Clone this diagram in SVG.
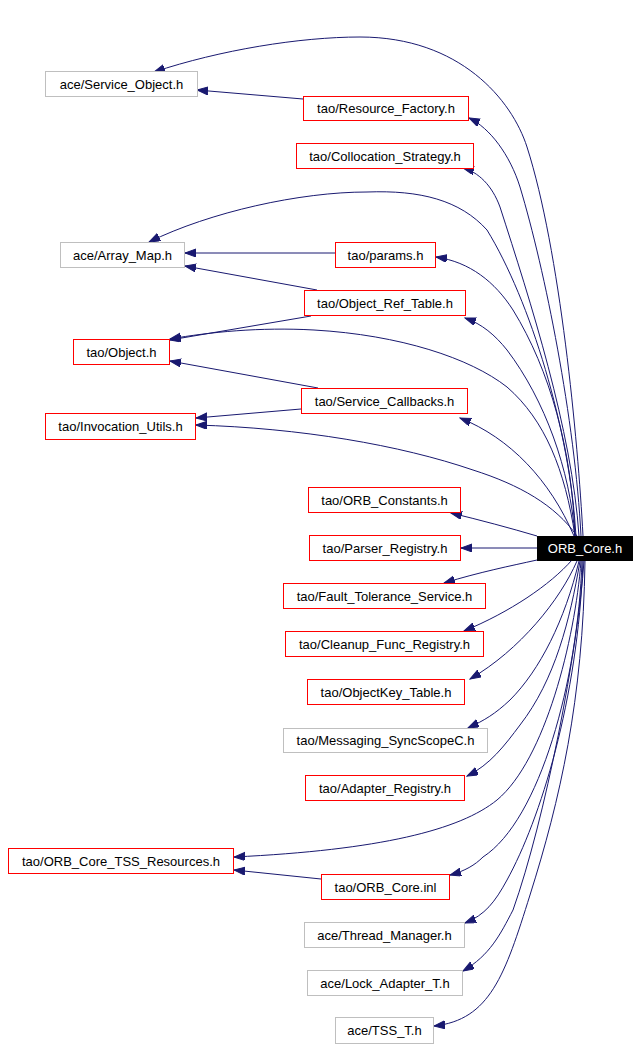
<svg xmlns="http://www.w3.org/2000/svg" width="640" height="1048" viewBox="0 0 640 1048">
<style>
.n rect{fill:#ffffff;stroke-width:1}
.r rect{stroke:#ff0000}
.g rect{stroke:#bfbfbf}
.n text{font-family:"Liberation Sans",Arial,sans-serif;font-size:13px;text-anchor:middle;fill:#000000}
#orbcore rect{fill:#000000;stroke:#000000}
#orbcore text{fill:#ffffff}
.e path{fill:none;stroke:#191970;stroke-width:1;marker-end:url(#ah)}
</style>
<defs>
<marker id="ah" markerUnits="userSpaceOnUse" markerWidth="12" markerHeight="9" refX="11" refY="4" orient="auto">
<path d="M0,0 L11,4 L0,8 z" fill="#191970" stroke="#191970" stroke-width="1"/>
</marker>
</defs>
<rect width="640" height="1048" fill="#ffffff"/>
<g id="edges" class="e">
<path d="M583,536 C578,440 560,250 527,147 C512,100 460,37 360,37 C300,37 220,50 154,72"/>
<path d="M303,99 L197,90"/>
<path d="M581,536 C575,420 545,270 520,187 C510,155 490,128 469,118"/>
<path d="M579,536 C572,430 530,300 500,207 C492,185 478,172 463,168"/>
<path d="M576,536 C570,430 530,300 487,230 C460,200 420,190 367,192 C300,192 210,212 149,242"/>
<path d="M335,253 L185,253"/>
<path d="M575,536 C572,450 550,370 513,310 C495,282 470,262 436,257"/>
<path d="M317,290 L185,266"/>
<path d="M575,536 C570,470 545,400 507,350 C495,335 482,324 465,318"/>
<path d="M311,316 L170,340"/>
<path d="M575,536 C565,470 545,420 507,387 C470,358 400,335 314,330 C260,327 210,332 170,339"/>
<path d="M318,388 L170,361"/>
<path d="M574,536 C550,480 510,438 460,418"/>
<path d="M301,409 L196,418"/>
<path d="M577,536 C555,505 520,485 473,470 C400,445 300,428 196,425"/>
<path d="M537,536 C510,528 480,520 451,513"/>
<path d="M537,548 L461,548"/>
<path d="M537,560 C510,566 480,572 444,583"/>
<path d="M572,560 C550,585 510,612 464,631"/>
<path d="M577,561 C560,600 520,650 470,679"/>
<path d="M579,561 C565,620 540,670 510,700 C495,714 485,720 468,728"/>
<path d="M580,561 C570,620 555,680 520,725 C505,745 490,765 467,776"/>
<path d="M581,561 C575,640 545,760 497,800 C460,830 380,850 234,857"/>
<path d="M321,879 L234,870"/>
<path d="M582,561 C578,680 540,820 483,857 C475,865 465,871 450,875"/>
<path d="M583,561 C578,700 540,820 507,880 C495,902 485,915 465,923"/>
<path d="M584,561 C578,650 545,820 513,910 C500,935 490,955 463,971"/>
<path d="M585,561 C583,700 560,800 530,895 C505,975 490,1020 434,1026"/>
</g>
<g id="service_object" class="n g"><rect x="45.5" y="71.5" width="152" height="25"/><text x="121.5" y="88.5">ace/Service_Object.h</text></g>
<g id="resource_factory" class="n r"><rect x="303.5" y="96.5" width="165" height="24"/><text x="386" y="113">tao/Resource_Factory.h</text></g>
<g id="collocation_strategy" class="n r"><rect x="296.5" y="143.5" width="177" height="25"/><text x="385" y="160.5">tao/Collocation_Strategy.h</text></g>
<g id="array_map" class="n g"><rect x="60.5" y="242.5" width="124" height="25"/><text x="122.5" y="259.5">ace/Array_Map.h</text></g>
<g id="params" class="n r"><rect x="335.5" y="242.5" width="100" height="25"/><text x="385.5" y="259.5">tao/params.h</text></g>
<g id="object_ref_table" class="n r"><rect x="304.5" y="290.5" width="161" height="25"/><text x="385" y="307.5">tao/Object_Ref_Table.h</text></g>
<g id="object" class="n r"><rect x="73.5" y="339.5" width="96" height="25"/><text x="121.5" y="356.5">tao/Object.h</text></g>
<g id="service_callbacks" class="n r"><rect x="301.5" y="388.5" width="166" height="25"/><text x="384.5" y="405.5">tao/Service_Callbacks.h</text></g>
<g id="invocation_utils" class="n r"><rect x="45.5" y="413.5" width="150" height="26"/><text x="120.5" y="431">tao/Invocation_Utils.h</text></g>
<g id="orb_constants" class="n r"><rect x="308.5" y="487.5" width="152" height="25"/><text x="384.5" y="504.5">tao/ORB_Constants.h</text></g>
<g id="parser_registry" class="n r"><rect x="309.5" y="535.5" width="151" height="25"/><text x="385" y="552.5">tao/Parser_Registry.h</text></g>
<g id="orbcore" class="n"><rect x="537.5" y="536.5" width="95" height="24"/><text x="585" y="553">ORB_Core.h</text></g>
<g id="fault_tolerance_service" class="n r"><rect x="283.5" y="583.5" width="202" height="25"/><text x="384.5" y="600.5">tao/Fault_Tolerance_Service.h</text></g>
<g id="cleanup_func_registry" class="n r"><rect x="285.5" y="631.5" width="198" height="25"/><text x="384.5" y="648.5">tao/Cleanup_Func_Registry.h</text></g>
<g id="objectkey_table" class="n r"><rect x="307.5" y="679.5" width="157" height="25"/><text x="386" y="696.5">tao/ObjectKey_Table.h</text></g>
<g id="messaging_syncscopec" class="n g"><rect x="283.5" y="728.5" width="204" height="24"/><text x="385.5" y="745">tao/Messaging_SyncScopeC.h</text></g>
<g id="adapter_registry" class="n r"><rect x="305.5" y="775.5" width="159" height="25"/><text x="385" y="792.5">tao/Adapter_Registry.h</text></g>
<g id="orb_core_tss_resources" class="n r"><rect x="8.5" y="848.5" width="225" height="25"/><text x="121" y="865.5">tao/ORB_Core_TSS_Resources.h</text></g>
<g id="orb_core_inl" class="n r"><rect x="321.5" y="874.5" width="128" height="25"/><text x="385.5" y="891.5">tao/ORB_Core.inl</text></g>
<g id="thread_manager" class="n g"><rect x="304.5" y="922.5" width="160" height="25"/><text x="384.5" y="939.5">ace/Thread_Manager.h</text></g>
<g id="lock_adapter_t" class="n g"><rect x="307.5" y="970.5" width="155" height="25"/><text x="385" y="987.5">ace/Lock_Adapter_T.h</text></g>
<g id="tss_t" class="n g"><rect x="335.5" y="1017.5" width="98" height="26"/><text x="384.5" y="1035">ace/TSS_T.h</text></g>
</svg>
